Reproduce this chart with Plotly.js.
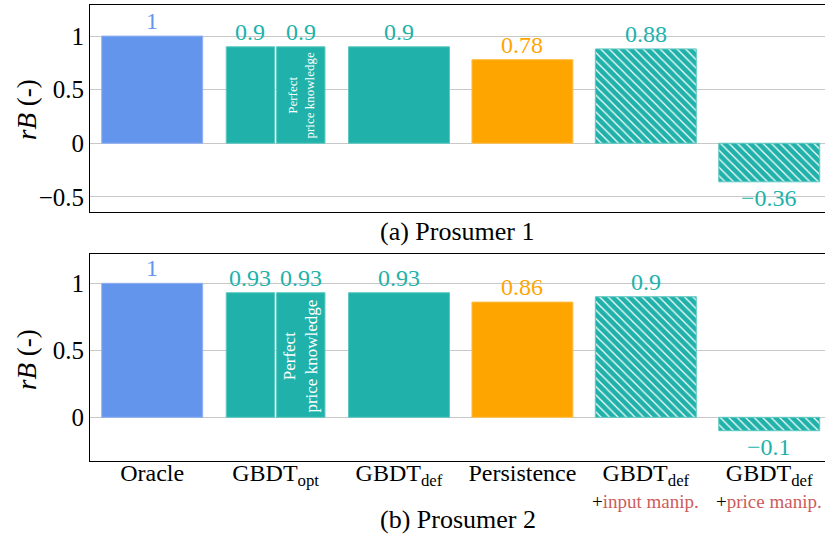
<!DOCTYPE html>
<html><head><meta charset="utf-8">
<script src="https://cdn.plot.ly/plotly-3.0.1.min.js"></script>
<style>body{margin:0;background:#fff}</style></head>
<body><div id="c" style="width:825px;height:538px"></div>
<script>
// ---- data ----
const categories = ['Oracle', 'GBDT_opt', 'GBDT_def', 'Persistence', 'GBDT_def + input manip.', 'GBDT_def + price manip.'];
const tickLabels = ['Oracle', 'GBDT<sub>opt</sub>', 'GBDT<sub>def</sub>', 'Persistence', 'GBDT<sub>def</sub>', 'GBDT<sub>def</sub>'];
const tickSubLabels = ['', '', '', '', 'input manip.', 'price manip.'];
const kinds = ['oracle', 'gbdt', 'gbdt', 'persistence', 'gbdt', 'gbdt'];
const hatched = [false, false, false, false, true, true];
const prosumer1 = [1, 0.9, 0.9, 0.78, 0.88, -0.36];
const prosumer1Perfect = 0.9;   // GBDT_opt with perfect price knowledge
const prosumer2 = [1, 0.93, 0.93, 0.86, 0.9, -0.1];
const prosumer2Perfect = 0.93;
const splitIndex = 1;            // GBDT_opt is split in two halves
const perfectText = 'Perfect<br>price knowledge';
const captions = ['(a) Prosumer 1', '(b) Prosumer 2'];
const yTitle = '<i>rB</i> (-)';

// ---- styles ----
const colors = {oracle: '#6495ED', gbdt: '#20B2AA', persistence: '#FFA500'};
const edge = {oracle: '#8fb0f2', gbdt: '#5cc8c1', persistence: '#ffbf4a'};
const RED = '#cd5c5c';
const FONT = '"Liberation Serif"';
const BW = 0.818, HW = 0.392, GAP = 0.008;

function fmt(v) { return v < 0 ? '\u2212' + Math.abs(v) : String(v); }

const traces = [];
const annotations = [];

function panel(vals, perfect, xa, ya, perfectSize) {
  const full = [], hat = [];
  vals.forEach((v, i) => {
    if (i === splitIndex) return;
    (hatched[i] ? hat : full).push(i);
  });
  traces.push({
    type: 'bar', xaxis: xa, yaxis: ya, x: full, y: full.map(i => vals[i]), width: BW,
    marker: {color: full.map(i => colors[kinds[i]]), line: {color: full.map(i => edge[kinds[i]]), width: 1}},
    hoverinfo: 'skip', showlegend: false
  });
  traces.push({
    type: 'bar', xaxis: xa, yaxis: ya, x: [splitIndex, splitIndex], y: [vals[splitIndex], perfect],
    width: [HW, HW], offset: [-HW - GAP, GAP],
    marker: {color: colors[kinds[splitIndex]], line: {color: edge[kinds[splitIndex]], width: 1}},
    hoverinfo: 'skip', showlegend: false
  });
  traces.push({
    type: 'bar', xaxis: xa, yaxis: ya, x: hat, y: hat.map(i => vals[i]), width: BW,
    marker: {color: colors.gbdt, line: {color: edge.gbdt, width: 1},
      pattern: {shape: '\\', fgcolor: '#ffffff', bgcolor: colors.gbdt, fillmode: 'replace', size: 6, solidity: 0.2}},
    hoverinfo: 'skip', showlegend: false
  });
  // value labels
  const pts = [];
  vals.forEach((v, i) => {
    if (i === splitIndex) {
      pts.push({x: i - GAP - HW / 2, v: v, k: kinds[i]});
      pts.push({x: i + GAP + HW / 2, v: perfect, k: kinds[i]});
    } else pts.push({x: i, v: v, k: kinds[i]});
  });
  pts.forEach(p => annotations.push({
    xref: xa, yref: ya, x: p.x, y: p.v, text: fmt(p.v), showarrow: false,
    yanchor: p.v >= 0 ? 'bottom' : 'top', yshift: p.v >= 0 ? 0 : -1,
    font: {family: FONT, size: 24, color: colors[p.k]}
  }));
  annotations.push({
    xref: xa, yref: ya, x: splitIndex + GAP + HW / 2, y: 0, yanchor: 'bottom', yshift: 3,
    text: perfectText, textangle: -90, showarrow: false, align: 'center',
    font: {family: FONT, size: perfectSize, color: '#ffffff'}
  });
}

panel(prosumer1, prosumer1Perfect, 'x2', 'y', 13);
panel(prosumer2, prosumer2Perfect, 'x', 'y2', 17);

// second line of the category labels
tickSubLabels.forEach((s, i) => {
  if (!s) return;
  annotations.push({xref: 'x', yref: 'paper', x: i, y: -0.0899, yanchor: 'middle', showarrow: false,
    text: '+<span style="color:' + RED + '">' + s + '</span>',
    font: {family: FONT, size: 19, color: '#000'}});
});

annotations.push({xref: 'paper', yref: 'paper', x: 0.5, y: 0.504, text: captions[0], showarrow: false,
  yanchor: 'middle', font: {family: FONT, size: 26, color: '#000'}});
annotations.push({xref: 'paper', yref: 'paper', x: 0.5, y: -0.129, text: captions[1], showarrow: false,
  yanchor: 'middle', font: {family: FONT, size: 26, color: '#000'}});
annotations.push({xref: 'paper', yref: 'paper', x: -0.0857, y: 0.77, text: yTitle, showarrow: false,
  textangle: -90, xanchor: 'center', yanchor: 'middle', font: {family: FONT, size: 27, color: '#000'}});
annotations.push({xref: 'paper', yref: 'paper', x: -0.0857, y: 0.2215, text: yTitle, showarrow: false,
  textangle: -90, xanchor: 'center', yanchor: 'middle', font: {family: FONT, size: 27, color: '#000'}});

const xr = [-0.504, 5.452];
const yCommon = {showgrid: true, gridcolor: '#c8c8c8', gridwidth: 1, zeroline: false, showline: true,
  linecolor: '#000', linewidth: 1, mirror: false, ticks: '', fixedrange: true,
  tickfont: {family: FONT, size: 25, color: '#000'}};

const layout = {
  width: 825, height: 538, margin: {l: 90, r: 0, t: 5, b: 77},
  paper_bgcolor: '#fff', plot_bgcolor: '#fff', barmode: 'overlay', showlegend: false,
  font: {family: FONT, color: '#000'},
  xaxis: {anchor: 'y2', range: xr, tickvals: categories.map((c, i) => i), ticktext: tickLabels,
    showgrid: false, zeroline: false, showline: true, linecolor: '#000', linewidth: 1, mirror: true,
    ticks: '', ticklabelstandoff: -10, tickfont: {family: FONT, size: 24, color: '#000'}, fixedrange: true},
  xaxis2: {anchor: 'y', matches: 'x', range: xr, showticklabels: false, showgrid: false, zeroline: false,
    showline: true, linecolor: '#000', linewidth: 1, mirror: true, ticks: '', fixedrange: true},
  yaxis: Object.assign({}, yCommon, {domain: [0.546, 1], range: [-0.642, 1.29], tickvals: [-0.5, 0, 0.5, 1]}),
  yaxis2: Object.assign({}, yCommon, {domain: [0, 0.454], range: [-0.326, 1.219], tickvals: [0, 0.5, 1]}),
  annotations: annotations
};

Plotly.newPlot('c', traces, layout, {staticPlot: true, displayModeBar: false});
</script></body></html>
